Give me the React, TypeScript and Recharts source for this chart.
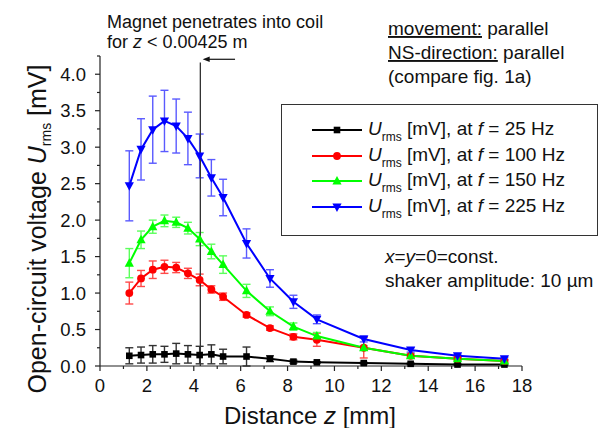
import React from "react";
import {
  LineChart,
  Line,
  XAxis,
  YAxis,
  ErrorBar,
  ReferenceLine,
  Legend,
  Label,
} from "recharts";

// distance z in mm
const distance = [1.25, 1.75, 2.25, 2.75, 3.25, 3.75, 4.25, 4.75, 5.25, 6.25, 7.25, 8.25, 9.25, 11.25, 13.25, 15.25, 17.25];

// U_rms [mV] and error per frequency
const u25 = [0.14, 0.15, 0.16, 0.16, 0.17, 0.16, 0.15, 0.16, 0.13, 0.13, 0.1, 0.06, 0.05, 0.04, 0.03, 0.02, 0.02];
const err25 = [0.11, 0.11, 0.12, 0.11, 0.14, 0.12, 0.12, 0.13, 0.1, 0.13, 0.04, 0.02, 0.01, 0.01, 0.01, 0.01, 0.01];
const u100 = [1.0, 1.2, 1.32, 1.36, 1.35, 1.27, 1.18, 1.05, 0.95, 0.7, 0.52, 0.4, 0.36, 0.25, 0.14, 0.1, 0.07];
const err100 = [0.15, 0.11, 0.12, 0.09, 0.07, 0.07, 0.08, 0.05, 0.05, 0.03, 0.03, 0.04, 0.09, 0.14, 0.03, 0.02, 0.02];
const u150 = [1.41, 1.73, 1.91, 1.99, 1.97, 1.89, 1.74, 1.57, 1.39, 1.03, 0.75, 0.54, 0.41, 0.25, 0.14, 0.1, 0.07];
const err150 = [0.2, 0.12, 0.09, 0.08, 0.07, 0.08, 0.09, 0.1, 0.12, 0.09, 0.06, 0.05, 0.05, 0.03, 0.03, 0.02, 0.02];
const u225 = [2.47, 2.97, 3.24, 3.36, 3.29, 3.12, 2.88, 2.58, 2.31, 1.68, 1.2, 0.88, 0.64, 0.37, 0.22, 0.14, 0.1];
const err225 = [0.48, 0.42, 0.46, 0.42, 0.37, 0.36, 0.3, 0.25, 0.25, 0.2, 0.12, 0.09, 0.06, 0.04, 0.03, 0.02, 0.02];

const xTicks = [0, 1, 2, 3, 4, 5, 6, 7, 8, 9, 10, 11, 12, 13, 14, 15, 16, 17, 18];
const yTicks = [0, 0.25, 0.5, 0.75, 1, 1.25, 1.5, 1.75, 2, 2.25, 2.5, 2.75, 3, 3.25, 3.5, 3.75, 4, 4.25];

// coil entrance marker (mm) and arrow
const magnetZ = 4.28;
const arrowFrom = { x: 5.76, y: 4.205 };
const arrowTo = { x: 4.38, y: 4.205 };

const FONT = "'Liberation Sans', Arial, sans-serif";

const data = distance.map((z, i) => ({
  z,
  u25: u25[i],
  e25: err25[i],
  u100: u100[i],
  e100: err100[i],
  u150: u150[i],
  e150: err150[i],
  u225: u225[i],
  e225: err225[i],
}));

const series = [
  { key: "u25", err: "e25", color: "#000000", errColor: "#333333", shape: "square", freq: "25" },
  { key: "u100", err: "e100", color: "#ff0000", errColor: "#ff4a4a", shape: "circle", freq: "100" },
  { key: "u150", err: "e150", color: "#00ff00", errColor: "#5cff5c", shape: "up", freq: "150" },
  { key: "u225", err: "e225", color: "#0000ff", errColor: "#5a5aff", shape: "down", freq: "225" },
];

function Marker({ cx, cy, shape, color }: any) {
  if (cx == null || cy == null) return <g />;
  if (shape === "square")
    return <rect x={cx - 3.3} y={cy - 3.3} width={6.6} height={6.6} fill={color} />;
  if (shape === "circle") return <circle cx={cx} cy={cy} r={3.9} fill={color} />;
  if (shape === "up")
    return <polygon points={`${cx},${cy - 5} ${cx - 4.6},${cy + 3.5} ${cx + 4.6},${cy + 3.5}`} fill={color} />;
  return <polygon points={`${cx - 4.6},${cy - 3.5} ${cx + 4.6},${cy - 3.5} ${cx},${cy + 5}`} fill={color} />;
}

const X_TICK_SIZE = 5;
const X_TICK_MARGIN = 8;
function XTick({ x, y, payload }: any) {
  const v = payload.value;
  const major = v % 2 === 0;
  const axisY = y - X_TICK_SIZE - X_TICK_MARGIN;
  return (
    <g>
      <line x1={x} x2={x} y1={axisY} y2={axisY + (major ? 5 : 3)} stroke="#222" strokeWidth={1.2} />
      {major && (
        <text x={x} y={y} dy="0.71em" textAnchor="middle" fontSize={18.5} fontFamily={FONT} fill="#111">
          {v}
        </text>
      )}
    </g>
  );
}

const Y_TICK_SIZE = 5;
const Y_TICK_MARGIN = 9;
function YTick({ x, y, payload }: any) {
  const v = payload.value;
  const major = Math.abs(v * 2 - Math.round(v * 2)) < 1e-6;
  const axisX = x + Y_TICK_SIZE + Y_TICK_MARGIN;
  return (
    <g>
      <line x1={axisX} x2={axisX - (major ? 5 : 3)} y1={y} y2={y} stroke="#222" strokeWidth={1.2} />
      {major && (
        <text x={x} y={y} dy="0.36em" textAnchor="end" fontSize={18.5} fontFamily={FONT} fill="#111">
          {v.toFixed(1)}
        </text>
      )}
    </g>
  );
}

function YTitle({ viewBox }: any) {
  const cx = viewBox.x + 6;
  const cy = viewBox.y + viewBox.height / 2 + 18;
  return (
    <text
      x={cx}
      y={cy}
      transform={`rotate(-90 ${cx} ${cy})`}
      textAnchor="middle"
      fontSize={25}
      fontFamily={FONT}
      fill="#111"
    >
      Open-circuit voltage <tspan fontStyle="italic">U</tspan>
      <tspan fontSize={14} dy={5}>rms</tspan>
      <tspan dy={-5}> [mV]</tspan>
    </text>
  );
}

function XTitle({ viewBox }: any) {
  return (
    <text
      x={viewBox.x + viewBox.width / 2 - 1}
      y={viewBox.y + 58}
      textAnchor="middle"
      fontSize={24}
      fontFamily={FONT}
      fill="#111"
    >
      Distance <tspan fontStyle="italic">z</tspan> [mm]
    </text>
  );
}

function ArrowShape(props: any) {
  const { x1, y1, x2, y2 } = props;
  return (
    <g>
      <line x1={x1} y1={y1} x2={x2 + 4} y2={y2} stroke="#111" strokeWidth={1.2} />
      <polygon points={`${x2},${y2} ${x2 + 7},${y2 - 2.8} ${x2 + 7},${y2 + 2.8}`} fill="#111" />
    </g>
  );
}

function LegendBox() {
  return (
    <div
      style={{
        boxSizing: "border-box",
        width: 317,
        height: 132,
        border: "1.5px solid #333",
        paddingTop: 12,
        fontFamily: FONT,
        fontSize: 19,
        color: "#111",
        background: "#fff",
      }}
    >
      {series.map((s) => (
        <div key={s.key} style={{ display: "flex", alignItems: "center", height: 25.7 }}>
          <svg width={50} height={14} style={{ marginLeft: 30, marginRight: 6 }}>
            <line x1={0} x2={50} y1={7} y2={7} stroke={s.color} strokeWidth={2} />
            <Marker cx={25} cy={7} shape={s.shape} color={s.color} />
          </svg>
          <span style={{ whiteSpace: "nowrap", lineHeight: "19px" }}>
            <i>U</i>
            <span style={{ fontSize: 12, position: "relative", top: 6 }}>rms</span> [mV], at <i>f</i> = {s.freq} Hz
          </span>
        </div>
      ))}
    </div>
  );
}

export default function App() {
  return (
    <div style={{ position: "absolute", left: 0, top: 0, width: 612, height: 428, background: "#fff" }}>
      <LineChart width={612} height={428} data={data} margin={{ top: 56, right: 90, bottom: 22, left: 40 }}>
        <XAxis
          dataKey="z"
          type="number"
          domain={[0, 18]}
          ticks={xTicks}
          interval={0}
          height={40}
          tickSize={X_TICK_SIZE}
          tickMargin={X_TICK_MARGIN}
          tickLine={false}
          tick={<XTick />}
          axisLine={{ stroke: "#222", strokeWidth: 1.2 }}
        >
          <Label content={<XTitle />} />
        </XAxis>
        <YAxis
          type="number"
          domain={[0, 4.25]}
          ticks={yTicks}
          interval={0}
          width={60}
          tickSize={Y_TICK_SIZE}
          tickMargin={Y_TICK_MARGIN}
          tickLine={false}
          tick={<YTick />}
          axisLine={{ stroke: "#222", strokeWidth: 1.2 }}
        >
          <Label content={<YTitle />} />
        </YAxis>
        <Legend
          layout="horizontal"
          verticalAlign="middle"
          align="center"
          content={() => <LegendBox />}
          wrapperStyle={{ left: 281, top: 104, width: 317, height: 132 }}
        />
        {series.map((s) => (
          <Line
            key={s.key}
            dataKey={s.key}
            type="linear"
            stroke={s.color}
            strokeWidth={2}
            isAnimationActive={false}
            activeDot={false}
            dot={(p: any) => (
              <Marker key={`${s.key}-${p.index}`} cx={p.cx} cy={p.cy} shape={s.shape} color={s.color} />
            )}
          >
            <ErrorBar dataKey={s.err} width={4} stroke={s.errColor} strokeWidth={1.4} direction="y" />
          </Line>
        ))}
        <ReferenceLine
          segment={[
            { x: magnetZ, y: 0 },
            { x: magnetZ, y: 4.16 },
          ]}
          stroke="#333"
          strokeWidth={1.3}
        />
        <ReferenceLine segment={[arrowFrom, arrowTo]} shape={<ArrowShape />} />
      </LineChart>
      <svg
        width={612}
        height={428}
        style={{ position: "absolute", left: 0, top: 0, pointerEvents: "none" }}
        fontFamily={FONT}
        fill="#111"
      >
        <text x={107} y={28} fontSize={18}>
          Magnet penetrates into coil
        </text>
        <text x={107} y={48} fontSize={18}>
          for <tspan fontStyle="italic">z</tspan> {"<"} 0.00425 m
        </text>
        <text x={388} y={35} fontSize={19}>
          <tspan style={{ textDecoration: "underline" }}>movement:</tspan> parallel
        </text>
        <text x={388} y={59} fontSize={19}>
          <tspan style={{ textDecoration: "underline" }}>NS-direction:</tspan> parallel
        </text>
        <text x={388} y={83} fontSize={19}>
          (compare fig. 1a)
        </text>
        <text x={385} y={263} fontSize={19}>
          <tspan fontStyle="italic">x</tspan>=<tspan fontStyle="italic">y</tspan>=0=const.
        </text>
        <text x={385} y={287} fontSize={19}>
          shaker amplitude: 10 µm
        </text>
      </svg>
    </div>
  );
}
